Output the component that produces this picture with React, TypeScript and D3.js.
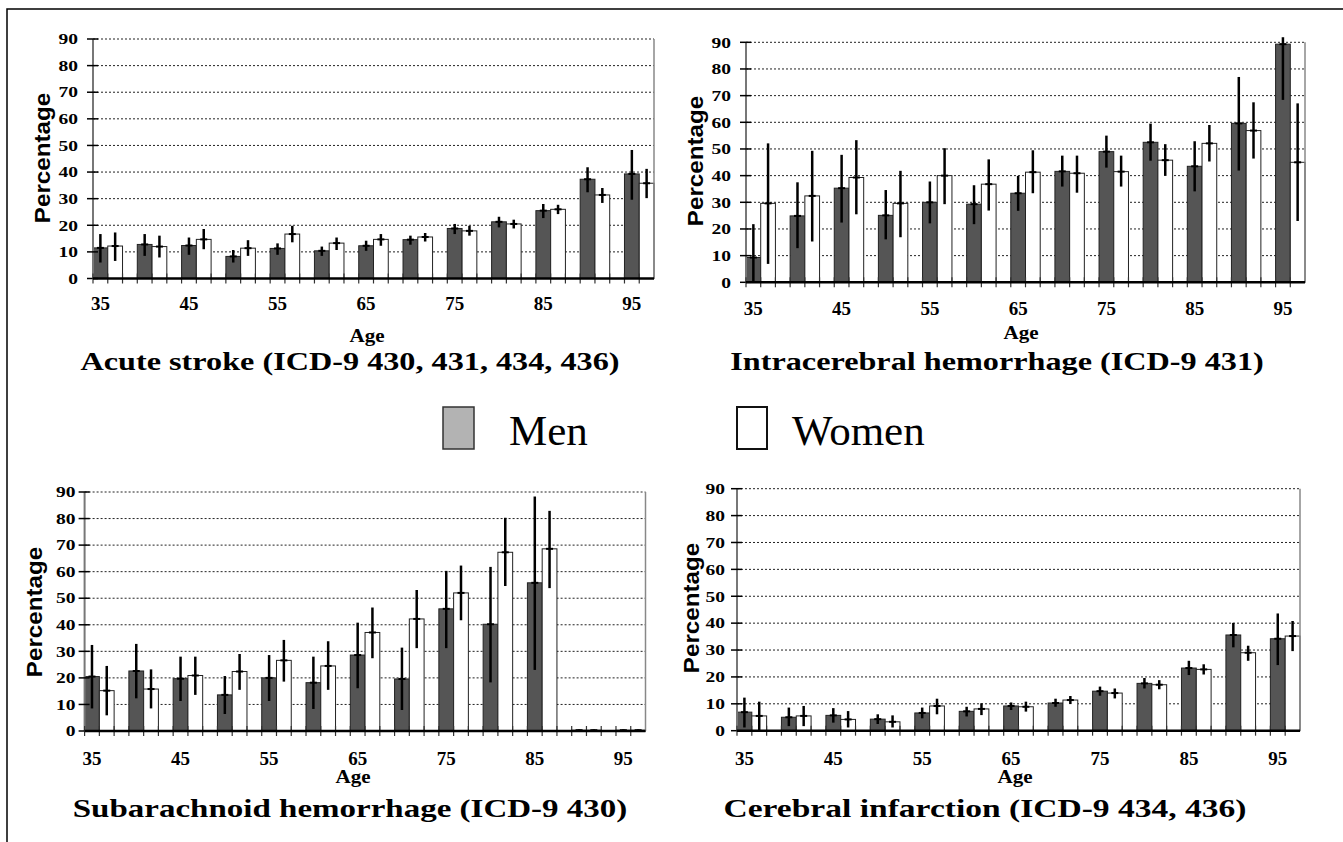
import React from "react"
import * as d3 from "d3"

// age groups (lower bound of 5-year band)
const ages = [35, 40, 45, 50, 55, 60, 65, 70, 75, 80, 85, 90, 95]
const ageTickLabels = [35, 45, 55, 65, 75, 85, 95]
const yTicks = [0, 10, 20, 30, 40, 50, 60, 70, 80, 90]

// each entry: [percentage, lower CI, upper CI]
const acuteMen = [
  [11.5, 6.0, 16.7], [12.8, 8.5, 16.7], [12.4, 8.9, 15.4], [8.3, 6.0, 10.7], [11.3, 8.9, 13.2],
  [10.4, 8.5, 12.0], [12.3, 10.4, 14.2], [14.6, 12.7, 16.1], [18.8, 16.7, 20.5], [21.3, 19.2, 23.2],
  [25.5, 22.7, 28.0], [37.3, 32.4, 41.8], [39.3, 29.6, 48.3],
]
const acuteWomen = [
  [12.2, 6.6, 17.3], [12.0, 7.9, 16.1], [14.7, 11.0, 18.6], [11.4, 8.5, 14.4], [16.7, 13.6, 19.8],
  [13.3, 10.7, 15.4], [14.7, 12.3, 16.7], [15.6, 13.9, 17.1], [17.9, 16.1, 19.8], [20.5, 18.8, 22.1],
  [26.0, 24.2, 27.7], [31.4, 28.4, 34.0], [35.8, 30.2, 41.2],
]
const ichMen = [
  [9.3, 0, 21.8], [24.9, 12.8, 37.5], [35.3, 22.4, 47.8], [25.1, 16.1, 34.6], [30.0, 22.1, 37.8],
  [29.3, 21.8, 36.4], [33.4, 26.8, 39.9], [41.6, 35.9, 47.5], [49.0, 43.0, 55.0], [52.5, 45.6, 59.5],
  [43.5, 34.1, 52.9], [59.6, 41.9, 77.0], [89.3, 68.4, 91.9],
]
const ichWomen = [
  [29.6, 6.9, 52.1], [32.4, 15.3, 49.3], [39.3, 25.5, 53.3], [29.6, 16.9, 41.8], [40.0, 29.3, 50.3],
  [36.8, 26.9, 46.1], [41.3, 33.4, 49.5], [40.9, 33.6, 47.5], [41.5, 35.9, 47.5], [45.8, 39.9, 51.8],
  [52.1, 45.3, 59.0], [56.9, 46.4, 67.5], [45.0, 23.0, 67.1],
]
const sahMen = [
  [20.5, 8.5, 32.4], [22.6, 12.3, 32.8], [19.7, 11.3, 28.0], [13.6, 6.4, 20.7], [20.0, 11.3, 28.6],
  [18.2, 8.3, 28.0], [28.6, 16.1, 40.8], [19.6, 7.9, 31.4], [46.0, 31.2, 60.3], [40.2, 18.3, 61.8],
  [55.8, 23.0, 88.3], [0.3, 0, 0.6], [0.3, 0, 0.6],
]
const sahWomen = [
  [15.2, 5.9, 24.5], [15.8, 8.5, 23.2], [20.9, 13.6, 28.0], [22.4, 15.5, 29.0], [26.6, 18.6, 34.3],
  [24.5, 15.5, 33.8], [37.1, 27.4, 46.5], [42.2, 31.2, 53.1], [52.0, 41.7, 62.3], [67.3, 54.6, 80.3],
  [68.6, 53.8, 82.9], [0.3, 0, 0.6], [0.3, 0, 0.6],
]
const infarctMen = [
  [6.9, 1.2, 12.3], [5.0, 1.7, 8.6], [5.7, 3.0, 8.4], [4.3, 2.5, 6.1], [6.6, 4.6, 8.6],
  [7.2, 5.3, 8.9], [9.2, 7.7, 10.5], [10.3, 8.9, 11.9], [14.7, 13.0, 16.4], [17.6, 15.7, 19.6],
  [23.3, 20.7, 26.0], [35.6, 31.0, 40.1], [34.2, 24.4, 43.6],
]
const infarctWomen = [
  [5.5, 0.2, 10.8], [5.5, 1.7, 9.2], [4.2, 1.2, 7.3], [3.3, 1.2, 5.7], [9.2, 6.1, 11.9],
  [8.1, 5.8, 10.2], [8.9, 7.1, 10.8], [11.4, 9.9, 12.9], [14.0, 12.0, 15.7], [17.1, 15.4, 18.8],
  [22.8, 20.9, 24.7], [29.0, 26.0, 31.6], [35.2, 29.6, 40.8],
]

const serif = "'Liberation Serif', 'Times New Roman', serif"
const sans = "'Liberation Sans', Arial, sans-serif"

const panels = [
  {
    title: "Acute stroke (ICD-9 430, 431, 434, 436)", men: acuteMen, women: acuteWomen,
    x0: 93, x1: 654, y0: 278.5, y90: 39, labelGap: 15, xLabY: 310,
    pctX: 50, pctY: 158, ageX: 367, ageY: 342, titleX: 350, titleY: 370, titleScale: 1.24,
  },
  {
    title: "Intracerebral hemorrhage (ICD-9 431)", men: ichMen, women: ichWomen,
    x0: 746, x1: 1305, y0: 282.3, y90: 42.3, labelGap: 15, xLabY: 315,
    pctX: 703, pctY: 161, ageX: 1021, ageY: 339, titleX: 997, titleY: 370, titleScale: 1.24,
  },
  {
    title: "Subarachnoid hemorrhage (ICD-9 430)", men: sahMen, women: sahWomen,
    x0: 84.6, x1: 645.5, y0: 731, y90: 492, labelGap: 9, xLabY: 765,
    pctX: 42, pctY: 612, ageX: 353, ageY: 783, titleX: 350, titleY: 817, titleScale: 1.27,
  },
  {
    title: "Cerebral infarction (ICD-9 434, 436)", men: infarctMen, women: infarctWomen,
    x0: 737, x1: 1300, y0: 730.7, y90: 488.7, labelGap: 12, xLabY: 765,
    pctX: 699, pctY: 608, ageX: 1015, ageY: 783, titleX: 985, titleY: 817, titleScale: 1.29,
  },
]

function Panel({ p }) {
  const x = d3.scaleBand().domain(ages.map(String)).range([p.x0, p.x1]).paddingInner(1 / 3).paddingOuter(0)
  const y = d3.scaleLinear().domain([0, 90]).range([p.y0, p.y90])
  const bw = x.bandwidth() / 2
  const slots = d3.range(0, ages.length * 3 - 1).map(i => p.x0 + i * bw).filter(v => v <= p.x1 + 0.5)

  const series = [
    { data: p.men, off: 0, fill: "#555555" },
    { data: p.women, off: bw, fill: "#ffffff" },
  ]

  return (
    <g>
      {/* gridlines */}
      {yTicks.filter(t => t > 0).map(t => (
        <line key={"g" + t} x1={p.x0} x2={p.x1} y1={y(t)} y2={y(t)} stroke="#222" strokeWidth={1} strokeDasharray="2,2" />
      ))}
      {/* bars */}
      {series.map((s, si) =>
        s.data.map((d, i) => {
          const bx = x(String(ages[i])) + s.off
          return (
            <rect key={"b" + si + "-" + i} x={bx} y={y(d[0])} width={bw} height={Math.max(0, p.y0 - y(d[0]))}
              fill={s.fill} stroke="#222" strokeWidth={1} />
          )
        })
      )}
      {/* error bars */}
      {series.map((s, si) =>
        s.data.map((d, i) => {
          const cx = x(String(ages[i])) + s.off + bw / 2
          return (
            <g key={"e" + si + "-" + i}>
              <line x1={cx} x2={cx} y1={y(d[1])} y2={y(d[2])} stroke="#000" strokeWidth={2.5} />
              <line x1={cx - 3.5} x2={cx + 3.5} y1={y(d[0])} y2={y(d[0])} stroke="#000" strokeWidth={2} />
            </g>
          )
        })
      )}
      {/* y axis, right edge */}
      <line x1={p.x0} x2={p.x0} y1={p.y90} y2={p.y0} stroke="#777" strokeWidth={2} />
      <line x1={p.x1} x2={p.x1} y1={p.y90} y2={p.y0} stroke="#888" strokeWidth={1.5} />
      {yTicks.map(t => (
        <g key={"t" + t}>
          <line x1={p.x0 - 6} x2={p.x0 + 5} y1={y(t)} y2={y(t)} stroke="#000" strokeWidth={1.5} />
          <text transform={`translate(${p.x0 - p.labelGap},${y(t)}) scale(1.3,1)`} dy="0.35em" textAnchor="end"
            fontFamily={serif} fontWeight="bold" fontSize={15}>{t}</text>
        </g>
      ))}
      {/* x baseline and slot ticks */}
      {slots.map((sx, i) => (
        <line key={"s" + i} x1={sx} x2={sx} y1={p.y0 - 5} y2={p.y0 + 5} stroke="#333" strokeWidth={1.2} />
      ))}
      <line x1={p.x0} x2={p.x1} y1={p.y0} y2={p.y0} stroke="#000" strokeWidth={2.5} />
      {ageTickLabels.map(a => (
        <text key={"x" + a} x={x(String(a)) + bw / 2} y={p.xLabY} textAnchor="middle"
          fontFamily={serif} fontWeight="bold" fontSize={19}>{a}</text>
      ))}
      {/* axis titles */}
      <text transform={`translate(${p.pctX},${p.pctY}) rotate(-90) scale(1.1,1)`} textAnchor="middle"
        fontFamily={sans} fontWeight="bold" fontSize={22}>Percentage</text>
      <text transform={`translate(${p.ageX},${p.ageY}) scale(1.17,1)`} textAnchor="middle"
        fontFamily={serif} fontWeight="bold" fontSize={18}>Age</text>
      <text transform={`translate(${p.titleX},${p.titleY}) scale(${p.titleScale},1)`} textAnchor="middle"
        fontFamily={serif} fontWeight="bold" fontSize={26}>{p.title}</text>
    </g>
  )
}

export default function App() {
  return (
    <svg width={1343} height={842} style={{ position: "absolute", left: 0, top: 0, background: "#fff" }}>
      <rect x={0} y={0} width={1343} height={842} fill="#fff" />
      <path d="M7,842 V9 H1343" fill="none" stroke="#000" strokeWidth={1.5} />
      {panels.map((p, i) => <Panel key={i} p={p} />)}
      {/* legend */}
      <rect x={443} y={407} width={31} height={42} fill="#b3b3b3" stroke="#333" strokeWidth={1.5} />
      <text x={509} y={445} fontFamily={serif} fontSize={43}>Men</text>
      <rect x={737} y={407} width={30} height={42} fill="#fff" stroke="#111" strokeWidth={2} />
      <text x={792} y={445} fontFamily={serif} fontSize={43}>Women</text>
    </svg>
  )
}
